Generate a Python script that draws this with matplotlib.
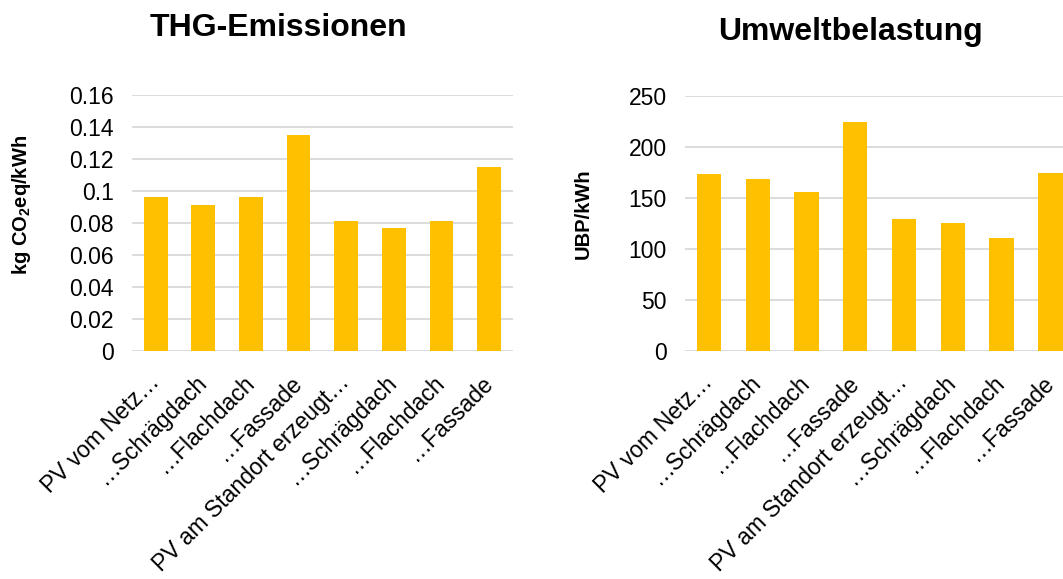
import matplotlib.pyplot as plt

plt.rcParams['font.family'] = ['Liberation Sans', 'DejaVu Sans']
plt.rcParams['mathtext.fontset'] = 'custom'
plt.rcParams['mathtext.bf'] = 'Liberation Sans:bold'
plt.rcParams['mathtext.rm'] = 'Liberation Sans:bold'

categories = ['PV vom Netz\u2026', '\u2026Schrägdach', '\u2026Flachdach', '\u2026Fassade',
              'PV am Standort erzeugt\u2026', '\u2026Schrägdach', '\u2026Flachdach', '\u2026Fassade']
thg = [0.096, 0.091, 0.096, 0.135, 0.081, 0.077, 0.081, 0.115]
ubp = [174, 169, 156, 225, 129, 125, 111, 175]

fig = plt.figure(figsize=(10.63, 5.79), dpi=100)
ax1 = fig.add_axes([0.124, 0.394, 0.3586, 0.442])
ax2 = fig.add_axes([0.644, 0.394, 0.367, 0.440])

bar_color = '#ffc000'
grid_color = '#d9d9d9'


def style(ax, ylim, ticks, ticklabels):
    x = range(len(categories))
    ax.set_xlim(-0.5, len(categories) - 0.5)
    ax.set_ylim(*ylim)
    ax.set_yticks(ticks)
    ax.set_yticklabels(ticklabels, fontsize=16.5)
    ax.set_xticks(list(x))
    ax.set_xticklabels(categories, rotation=45, ha='right', va='center',
                       rotation_mode='anchor', fontsize=16.5)
    ax.tick_params(axis='y', length=0, pad=13)
    ax.tick_params(axis='x', length=0, pad=20)
    for s in ax.spines.values():
        s.set_visible(False)
    ax.grid(axis='y', color=grid_color, linewidth=1.3)
    ax.set_axisbelow(True)


ax1.bar(range(len(categories)), thg, width=0.5, color=bar_color, zorder=2)
style(ax1, (0, 0.16), [0, 0.02, 0.04, 0.06, 0.08, 0.1, 0.12, 0.14, 0.16],
      ['0', '0.02', '0.04', '0.06', '0.08', '0.1', '0.12', '0.14', '0.16'])
ax1.set_ylabel(r'kg CO$_{2}$eq/kWh', fontsize=14.5, fontweight='bold')
ax1.yaxis.set_label_coords(-0.26, 0.57)

ax2.bar(range(len(categories)), ubp, width=0.5, color=bar_color, zorder=2)
style(ax2, (0, 250), [0, 50, 100, 150, 200, 250],
      ['0', '50', '100', '150', '200', '250'])
ax2.set_ylabel('UBP/kWh', fontsize=14.5, fontweight='bold')
ax2.yaxis.set_label_coords(-0.236, 0.537)

fig.text(0.2615, 0.952, 'THG-Emissionen', ha='center', va='center',
         fontsize=23, fontweight='bold')
fig.text(0.8005, 0.945, 'Umweltbelastung', ha='center', va='center',
         fontsize=23, fontweight='bold')

fig.savefig('out.png', dpi=100)
